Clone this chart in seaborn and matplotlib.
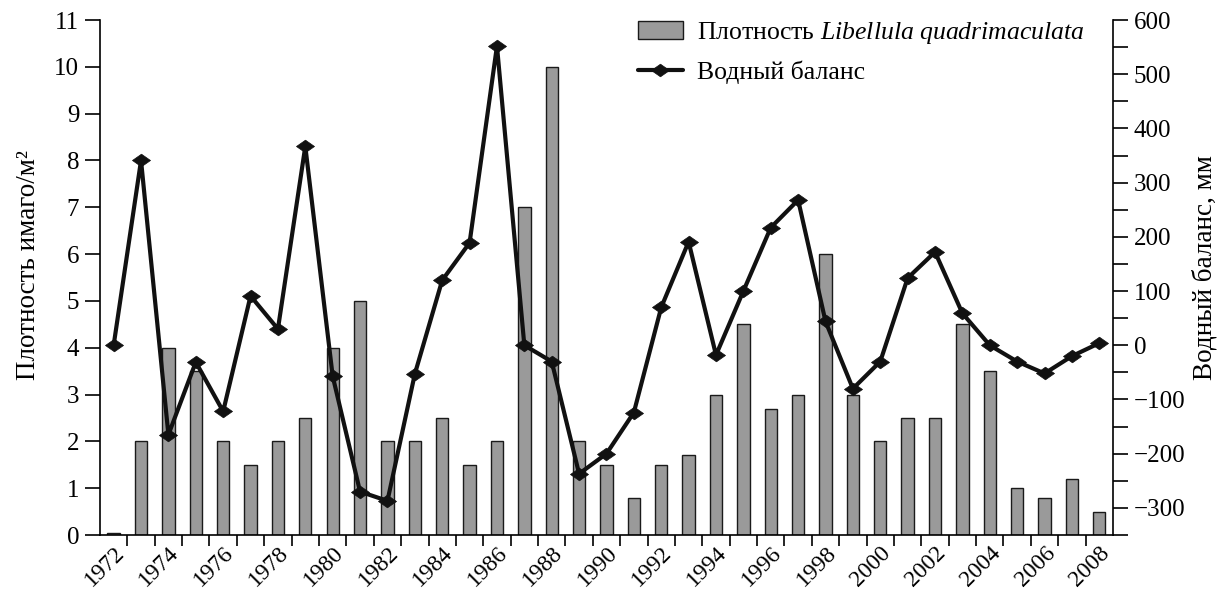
import numpy as np
import matplotlib
matplotlib.use('Agg')
import matplotlib.pyplot as plt
import seaborn as sns
from matplotlib.path import Path
from matplotlib.ticker import MultipleLocator, FuncFormatter

# data
years = [str(y) for y in range(1972, 2009)]
density = [0.05, 2, 4, 3.5, 2, 1.5, 2, 2.5, 4, 5,
           2, 2, 2.5, 1.5, 2, 7, 10, 2, 1.5, 0.8,
           1.5, 1.7, 3, 4.5, 2.7, 3, 6, 3, 2, 2.5,
           2.5, 4.5, 3.5, 1.0, 0.8, 1.2, 0.5]
water_balance = [0, 341, -165, -31, -122, 91, 30, 367, -57, -270,
                 -287, -53, 120, 189, 552, 0, -30, -237, -200, -124,
                 70, 191, -18, 100, 217, 268, 44, -80, -30, 124,
                 172, 59, 0, -30, -52, -20, 4]
tick_years = years[::2]

sns.set_theme(style='white')
plt.rcParams['font.family'] = ['Liberation Serif', 'DejaVu Serif']
plt.rcParams['mathtext.fontset'] = 'custom'
plt.rcParams['mathtext.rm'] = 'Liberation Serif'
plt.rcParams['mathtext.it'] = 'Liberation Serif:italic'
for k in ['text.color', 'axes.labelcolor', 'xtick.color', 'ytick.color', 'axes.edgecolor']:
    plt.rcParams[k] = 'black'

fig = plt.figure(figsize=(12.22, 5.94), dpi=100)
ax = fig.add_axes([0.0818, 0.0993, 0.829, 0.867])

sns.barplot(x=years, y=density, color='#9a9a9a', saturation=1, width=0.45,
            edgecolor='#1a1a1a', linewidth=1.0, ax=ax,
            label=r'Плотность $\mathit{Libellula\ quadrimaculata}$')
if ax.get_legend() is not None:
    ax.get_legend().remove()

ax2 = ax.twinx()
# flattened diamond marker like in the original
diamond = Path([(-1, 0), (0, 0.7), (1, 0), (0, -0.7), (-1, 0)],
               [Path.MOVETO, Path.LINETO, Path.LINETO, Path.LINETO, Path.CLOSEPOLY])
sns.pointplot(x=years, y=water_balance, color='#111111', errorbar=None,
              marker=diamond, markersize=13, markeredgewidth=0.5,
              linewidth=3, ax=ax2, label='Водный баланс')
if ax2.get_legend() is not None:
    ax2.get_legend().remove()

ax.set_xlim(-0.5, len(years) - 0.5)
ax.set_ylim(0, 11)
ax2.set_ylim(-350, 600)

# x axis: labels every other year, tick marks between bars
ax.set_xticks(range(0, len(years), 2))
ax.set_xticklabels(tick_years, rotation=45, ha='right', rotation_mode='anchor')
ax.set_xticks(np.arange(0.5, len(years) - 1, 1), minor=True)
ax.tick_params(axis='x', which='major', bottom=True, length=0, pad=5, labelsize=17)
ax.tick_params(axis='x', which='minor', bottom=True, length=8, width=1.2, direction='out')

ax.set_yticks(range(0, 12))
ax.tick_params(axis='y', left=True, length=11, width=1.2, direction='out', labelsize=18, pad=4)

ax2.yaxis.set_major_locator(MultipleLocator(100))
ax2.yaxis.set_minor_locator(MultipleLocator(50))
ax2.yaxis.set_major_formatter(FuncFormatter(lambda v, p: f'\u2212{abs(int(v))}' if v < 0 else f'{int(v)}'))
ax2.tick_params(axis='y', which='both', right=True, length=11, width=1.2, direction='out', labelsize=18, pad=4)

for s in ['top', 'right']:
    ax.spines[s].set_visible(False)
for s in ['top', 'left', 'bottom']:
    ax2.spines[s].set_visible(False)
for a in (ax, ax2):
    for s in a.spines.values():
        s.set_linewidth(1.2)

ax.set_xlabel('')
ax.set_ylabel('Плотность имаго/м²', fontsize=19.5)
ax.yaxis.set_label_coords(-0.058, 0.524)
ax2.set_ylabel('Водный баланс, мм', fontsize=19.5)
ax2.yaxis.set_label_coords(1.078, 0.52)

h1, l1 = ax.get_legend_handles_labels()
h2, l2 = ax2.get_legend_handles_labels()
ax2.legend(h1 + h2, l1 + l2, loc='upper left', bbox_to_anchor=(0.503, 1.005),
           bbox_transform=fig.transFigure, frameon=False, fontsize=18.5,
           handlelength=1.75, handletextpad=0.55, labelspacing=0.55)

fig.savefig('out.png', dpi=100)
